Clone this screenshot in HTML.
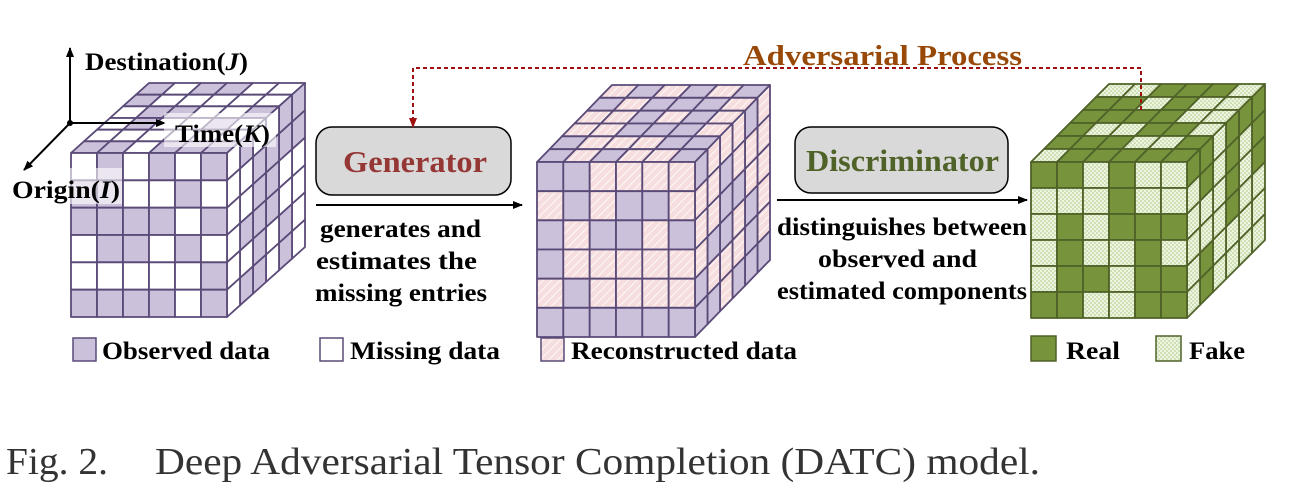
<!DOCTYPE html>
<html><head><meta charset="utf-8"><style>
body{margin:0;background:#fff;}
svg{display:block;font-family:"Liberation Serif",serif;}
</style></head><body>
<svg id="s" width="1294" height="502" viewBox="0 0 1294 502" xmlns="http://www.w3.org/2000/svg">
<defs>
<pattern id="hatch" width="6" height="6" patternUnits="userSpaceOnUse" patternTransform="rotate(45)">
<rect width="6" height="6" fill="#f6dede"/><line x1="0" y1="0" x2="0" y2="6" stroke="#fff" stroke-width="1.6"/></pattern>
<pattern id="chk" width="4" height="4" patternUnits="userSpaceOnUse">
<rect width="4" height="4" fill="#eef4e2"/><rect width="2" height="2" fill="#cfe0b4"/><rect x="2" y="2" width="2" height="2" fill="#cfe0b4"/></pattern>
<marker id="ah" markerWidth="10" markerHeight="8" refX="9" refY="4" orient="auto" markerUnits="userSpaceOnUse"><path d="M0,0L10,4L0,8z" fill="#000"/></marker>
<marker id="ahr" markerWidth="10" markerHeight="8" refX="9" refY="4" orient="auto" markerUnits="userSpaceOnUse"><path d="M0,0L10,4L0,8z" fill="#a01010"/></marker>
</defs>
<g id="cubes"></g>
<line x1="70" y1="123" x2="70" y2="48" stroke="#000" stroke-width="2" marker-end="url(#ah)"/>
<line x1="70" y1="123" x2="165" y2="123" stroke="#000" stroke-width="2" marker-end="url(#ah)"/>
<line x1="70" y1="123" x2="24" y2="170" stroke="#000" stroke-width="2" marker-end="url(#ah)"/>
<circle cx="70" cy="123" r="3"/>
<g font-size="25" font-weight="bold" lengthAdjust="spacingAndGlyphs">
<text x="85" y="70" textLength="163" lengthAdjust="spacingAndGlyphs">Destination(<tspan font-style="italic">J</tspan>)</text>
<rect x="164" y="113" width="112" height="34" fill="#fff" opacity="0.6"/>
<text x="175" y="142" textLength="95" lengthAdjust="spacingAndGlyphs">Time(<tspan font-style="italic">K</tspan>)</text>
<rect x="70" y="168" width="52" height="36" fill="#fff" opacity="0.6"/>
<text x="12" y="198" textLength="108" lengthAdjust="spacingAndGlyphs">Origin(<tspan font-style="italic">I</tspan>)</text>
</g>
<rect x="316" y="127" width="195" height="68" rx="16" fill="#d9d9d9" stroke="#000" stroke-width="1.5"/>
<text x="343" y="172" font-size="31" font-weight="bold" fill="#953735" textLength="144" lengthAdjust="spacingAndGlyphs">Generator</text>
<rect x="795" y="127" width="213" height="66" rx="16" fill="#d9d9d9" stroke="#000" stroke-width="1.5"/>
<text x="806" y="171" font-size="31" font-weight="bold" fill="#4f6228" textLength="193" lengthAdjust="spacingAndGlyphs">Discriminator</text>
<line x1="316" y1="205" x2="522" y2="205" stroke="#000" stroke-width="2" marker-end="url(#ah)"/>
<line x1="777" y1="200" x2="1027" y2="200" stroke="#000" stroke-width="2" marker-end="url(#ah)"/>
<g font-size="25" font-weight="bold">
<text x="320" y="237" textLength="161" lengthAdjust="spacingAndGlyphs">generates and</text>
<text x="316" y="269" textLength="161" lengthAdjust="spacingAndGlyphs">estimates the</text>
<text x="315" y="301" textLength="172" lengthAdjust="spacingAndGlyphs">missing entries</text>
<text x="777" y="235" textLength="250" lengthAdjust="spacingAndGlyphs">distinguishes between</text>
<text x="818" y="267" textLength="159" lengthAdjust="spacingAndGlyphs">observed  and</text>
<text x="777" y="299" textLength="250" lengthAdjust="spacingAndGlyphs">estimated components</text>
</g>
<text x="743" y="65" font-size="29" font-weight="bold" fill="#984807" textLength="279" lengthAdjust="spacingAndGlyphs">Adversarial Process</text>
<path d="M1141,110 V68 H413 V127" fill="none" stroke="#a01010" stroke-width="2" stroke-dasharray="4,3" marker-end="url(#ahr)"/>
<g font-size="25" font-weight="bold" stroke-width="1.5">
<rect x="73" y="338" width="23" height="23" fill="#ccc1da" stroke="#5a4a78"/>
<text x="102" y="359" textLength="168" lengthAdjust="spacingAndGlyphs">Observed data</text>
<rect x="320" y="338" width="23" height="23" fill="#fff" stroke="#5a4a78"/>
<text x="350" y="359" textLength="150" lengthAdjust="spacingAndGlyphs">Missing data</text>
<rect x="541" y="338" width="23" height="23" fill="url(#hatch)" stroke="#5a4a78"/>
<text x="571" y="359" textLength="226" lengthAdjust="spacingAndGlyphs">Reconstructed data</text>
<rect x="1031" y="336" width="25" height="25" fill="#77933c" stroke="#4f6228"/>
<text x="1066" y="359" textLength="54" lengthAdjust="spacingAndGlyphs">Real</text>
<rect x="1156" y="336" width="25" height="25" fill="url(#chk)" stroke="#4f6228"/>
<text x="1189" y="359" textLength="56" lengthAdjust="spacingAndGlyphs">Fake</text>
</g>
<g font-size="38" fill="#333">
<text x="6" y="474" textLength="102" lengthAdjust="spacingAndGlyphs">Fig. 2.</text>
<text x="155" y="474" textLength="885" lengthAdjust="spacingAndGlyphs">Deep Adversarial Tensor Completion (DATC) model.</text>
</g>
</svg>
<script>
var seed=7;function rnd(){seed=(seed*16807)%2147483647;return seed/2147483647;}
var g=document.getElementById('cubes');var NS='http://www.w3.org/2000/svg';
function poly(pts,fill,stroke){var p=document.createElementNS(NS,'polygon');p.setAttribute('points',pts.map(function(a){return a[0].toFixed(1)+','+a[1].toFixed(1)}).join(' '));p.setAttribute('fill',fill);p.setAttribute('stroke',stroke);p.setAttribute('stroke-width','1.8');p.setAttribute('stroke-linejoin','round');g.appendChild(p);}
function cube(x0,y0,w,h,dx,dy,fa,fb,stroke){
 var n=6,cw=w/n,ch=h/n,ex=dx/n,ey=dy/n;
 function f(){return rnd()<0.5?fa:fb;}
 for(var d=n-1;d>=0;d--)for(var i=0;i<n;i++){
  var ax=x0+i*cw+d*ex,ay=y0+d*ey;
  poly([[ax,ay],[ax+cw,ay],[ax+cw+ex,ay+ey],[ax+ex,ay+ey]],f(),stroke);}
 for(var d=n-1;d>=0;d--)for(var j=0;j<n;j++){
  var ax=x0+w+d*ex,ay=y0+j*ch+d*ey;
  poly([[ax,ay],[ax+ex,ay+ey],[ax+ex,ay+ey+ch],[ax,ay+ch]],f(),stroke);}
 for(var j=0;j<n;j++)for(var i=0;i<n;i++){
  var ax=x0+i*cw,ay=y0+j*ch;
  poly([[ax,ay],[ax+cw,ay],[ax+cw,ay+ch],[ax,ay+ch]],f(),stroke);}
}
cube(71,153,156,164,78,-70,'#ccc1da','#ffffff','#5a4a78');
cube(537,162,158,175,75,-77,'#ccc1da','url(#hatch)','#5a4a78');
cube(1031,162,156,156,78,-78,'#77933c','url(#chk)','#4f6228');
</script>
</body></html>
